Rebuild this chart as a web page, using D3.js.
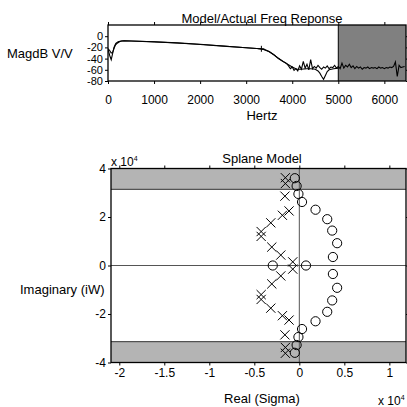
<!DOCTYPE html>
<html><head><meta charset="utf-8">
<script src="https://cdn.jsdelivr.net/npm/d3@7"></script>
<style>
html,body{margin:0;padding:0;background:#fff;}
svg{display:block;font-family:"Liberation Sans",Arial,Helvetica,sans-serif;}
</style></head><body>
<svg id="c" width="407" height="407"></svg>
<script>
// ---- Frequency response (dB vs Hz) ----
const modelHz = [0, 40, 70, 100, 130, 160, 200, 250, 300, 350, 500, 1000, 1500, 2000, 2500, 3000, 3300, 3400, 3500, 3600, 3700, 3800, 3900, 4000, 4100, 4200, 4300, 4400, 4500, 4560, 4600, 4640, 4680, 4720, 4760, 4800, 4900, 5000];
const modelDb = [-22, -26, -30, -29, -22, -16, -12.5, -10, -8.5, -8, -8.5, -10, -12, -14.5, -17.5, -20.5, -22.3, -24, -27.5, -33, -39.5, -45, -50, -55, -59, -59, -58, -58, -59, -62, -66, -72, -77, -70, -63, -60, -58, -57];

const actualHz = [0, 35, 70, 95, 130, 170, 220, 280, 350, 500, 1000, 1500, 2000, 2500, 3000, 3300, 3400, 3500, 3600, 3700, 3800, 3850,
  3880, 3920, 3960, 4000, 4040, 4080, 4120, 4160, 4200, 4240, 4280, 4320, 4360, 4400, 4440, 4480, 4520, 4560, 4600, 4640,
  4680, 4720, 4760, 4800, 4840, 4880, 4920, 4960, 5000, 5040, 5080, 5120, 5160, 5200, 5240, 5280, 5320, 5360, 5400, 5440,
  5480, 5520, 5560, 5600, 5640, 5680, 5720, 5760, 5800, 5840, 5880, 5920, 5960, 6000, 6040, 6080, 6120, 6160, 6200, 6240,
  6280, 6320, 6360, 6400, 6440];
const actualDb = [-23, -34, -42, -33, -20, -13, -10, -8.5, -8, -8.7, -10.2, -12.2, -14.7, -17.7, -20.7, -22.4, -24.2, -27.7, -33.2, -39.7, -45.3, -47.5,
  -49, -53, -58, -55, -61, -58, -62, -53, -59, -45, -57, -50, -60, -42, -58, -54, -57, -52, -56, -59,
  -55, -57, -53, -58, -55, -56, -52, -57, -54, -58, -48, -57, -52, -55, -50, -56, -53, -58, -54, -57,
  -55, -59, -56, -57, -55, -58, -56, -57, -56, -58, -55, -57, -56, -58, -56, -57, -55, -56, -54, -46,
  -72, -52, -56, -55, -54];

const markHz = [3330];
const markDb = [-22.5];

const freqTicks = [0, 1000, 2000, 3000, 4000, 5000, 6000];
const dbTicks = [-80, -60, -40, -20, 0];
const cutoffHz = 5000;

// ---- S-plane model (units of 1e4) ----
const poleRe = [-0.155, -0.155, -0.16, -0.114, -0.188, -0.317, -0.424, -0.424, -0.306, -0.206, -0.073];
const poleIm = [3.62, 3.38, 2.86, 2.25, 2.07, 1.76, 1.40, 1.20, 0.76, 0.43, 0.15];
const zeroRe = [-0.05, -0.03, -0.01, 0.03, 0.18, 0.31, 0.365, 0.42, 0.373];
const zeroIm = [3.60, 3.28, 2.95, 2.62, 2.30, 1.91, 1.44, 0.92, 0.35];
const realZeros = [-0.295, 0.074];

const reTicks = [-2, -1.5, -1, -0.5, 0, 0.5, 1];
const imTicks = [-4, -2, 0, 2, 4];

const svg = d3.select("#c");
const fmt = d => String(d);

function frame(g, x0, x1, y0, y1) {
  g.append("rect").attr("x", x0).attr("y", y0).attr("width", x1 - x0).attr("height", y1 - y0)
    .attr("fill", "none").attr("stroke", "#000").attr("stroke-width", 1.3);
}
function axes(g, xs, ys, xt, yt, box, opt) {
  g.append("g").attr("transform", `translate(0,${box.y1})`)
    .call(d3.axisBottom(xs).tickValues(xt).tickSize(3).tickPadding(opt.xPad).tickFormat(fmt))
    .selectAll(".tick text").attr("font-size", 12);
  g.append("g").attr("transform", `translate(0,${box.y0})`)
    .call(d3.axisTop(xs).tickValues(xt).tickSize(3).tickFormat(""));
  g.append("g").attr("transform", `translate(${box.x0},0)`)
    .call(d3.axisLeft(ys).tickValues(yt).tickSize(3).tickPadding(2).tickFormat(fmt))
    .selectAll(".tick text").attr("font-size", opt.ySize);
  g.append("g").attr("transform", `translate(${box.x1},0)`)
    .call(d3.axisRight(ys).tickValues(yt).tickSize(3).tickFormat(""));
  g.selectAll(".domain").remove();
  g.selectAll(".tick line").attr("stroke", "#000");
  g.selectAll(".tick text").attr("fill", "#000")
    .attr("font-family", '"Liberation Sans",Arial,sans-serif');
}

// ===== top panel =====
const T = {x0: 108, x1: 406, y0: 25, y1: 81};
const fx = d3.scaleLinear().domain([0, 6470]).range([T.x0, T.x1]);
const fy = d3.scaleLinear().domain([-80, 20]).range([T.y1, T.y0]);
const gt = svg.append("g");
svg.append("clipPath").attr("id", "clipT").append("rect")
  .attr("x", T.x0).attr("y", T.y0).attr("width", T.x1 - T.x0).attr("height", T.y1 - T.y0);

gt.append("rect").attr("x", fx(cutoffHz)).attr("y", T.y0)
  .attr("width", T.x1 - fx(cutoffHz)).attr("height", T.y1 - T.y0).attr("fill", "#808080");
gt.append("line").attr("x1", fx(cutoffHz)).attr("x2", fx(cutoffHz)).attr("y1", T.y0).attr("y2", T.y1)
  .attr("stroke", "#000").attr("stroke-width", 1);

const fline = d3.line().x(d => fx(d[0])).y(d => fy(d[1]));
const lines = gt.append("g").attr("clip-path", "url(#clipT)");
lines.append("path").datum(modelHz.map((h, i) => [h, modelDb[i]]))
  .attr("d", fline).attr("fill", "none").attr("stroke", "#000").attr("stroke-width", 1.1);
lines.append("path").datum(actualHz.map((h, i) => [h, actualDb[i]]))
  .attr("d", fline).attr("fill", "none").attr("stroke", "#000").attr("stroke-width", 1.1);
lines.selectAll("path.mk").data(markHz.map((h, i) => [h, markDb[i]])).join("path").attr("class", "mk")
  .attr("d", d => `M${fx(d[0]) - 3},${fy(d[1])}h6M${fx(d[0])},${fy(d[1]) - 3}v6`)
  .attr("stroke", "#000").attr("stroke-width", 1);

frame(gt, T.x0, T.x1, T.y0, T.y1);
axes(gt, fx, fy, freqTicks, dbTicks, T, {xPad: 11, ySize: 11});

gt.append("text").attr("x", 262).attr("y", 23).attr("text-anchor", "middle").attr("font-size", 13)
  .text("Model/Actual Freq Reponse");
gt.append("text").attr("x", 262).attr("y", 120).attr("text-anchor", "middle").attr("font-size", 13)
  .text("Hertz");
gt.append("text").attr("x", 7).attr("y", 58).attr("font-size", 13).text("MagdB V/V");

// ===== bottom panel =====
const B = {x0: 111, x1: 406, y0: 168.5, y1: 362.5};
const sx = d3.scaleLinear().domain([-2.092, 1.185]).range([B.x0, B.x1]);
const sy = d3.scaleLinear().domain([-4, 4]).range([B.y1, B.y0]);
const gb = svg.append("g");
const nyq = 2 * Math.PI * cutoffHz / 1e4;

[[4, nyq], [-nyq, -4]].forEach(([a, b]) => {
  gb.append("rect").attr("x", B.x0).attr("y", sy(a)).attr("width", B.x1 - B.x0)
    .attr("height", sy(b) - sy(a)).attr("fill", "#b4b4b4");
});
[nyq, -nyq].forEach(v => {
  gb.append("line").attr("x1", B.x0).attr("x2", B.x1).attr("y1", sy(v)).attr("y2", sy(v))
    .attr("stroke", "#333").attr("stroke-width", 1);
});
gb.append("line").attr("x1", B.x0).attr("x2", B.x1).attr("y1", sy(0)).attr("y2", sy(0))
  .attr("stroke", "#555").attr("stroke-width", 1);
gb.append("line").attr("x1", sx(0)).attr("x2", sx(0)).attr("y1", B.y0).attr("y2", B.y1)
  .attr("stroke", "#555").attr("stroke-width", 1);

const poles = [];
poleRe.forEach((r, i) => { poles.push([r, poleIm[i]]); poles.push([r, -poleIm[i]]); });
const zeros = [];
zeroRe.forEach((r, i) => { zeros.push([r, zeroIm[i]]); zeros.push([r, -zeroIm[i]]); });
realZeros.forEach(r => zeros.push([r, 0]));

const s = 4.6;
gb.selectAll("path.pole").data(poles).join("path").attr("class", "pole")
  .attr("d", d => { const x = sx(d[0]), y = sy(d[1]);
    return `M${x - s},${y - s}L${x + s},${y + s}M${x - s},${y + s}L${x + s},${y - s}`; })
  .attr("stroke", "#000").attr("stroke-width", 1).attr("fill", "none");
gb.selectAll("circle.zero").data(zeros).join("circle").attr("class", "zero")
  .attr("cx", d => sx(d[0])).attr("cy", d => sy(d[1])).attr("r", 4.6)
  .attr("stroke", "#000").attr("stroke-width", 1).attr("fill", "none");

frame(gb, B.x0, B.x1, B.y0, B.y1);
axes(gb, sx, sy, reTicks, imTicks, B, {xPad: 3, ySize: 12});

gb.append("text").attr("x", 262).attr("y", 163).attr("text-anchor", "middle").attr("font-size", 13)
  .text("Splane Model");
gb.append("text").attr("x", 262).attr("y", 403).attr("text-anchor", "middle").attr("font-size", 13)
  .text("Real (Sigma)");
gb.append("text").attr("x", 20).attr("y", 294).attr("font-size", 13).text("Imaginary (iW)");

function sci(x, y) {
  const t = gb.append("text").attr("x", x).attr("y", y).attr("font-size", 12);
  t.append("tspan").text("x 10");
  t.append("tspan").attr("font-size", 7).attr("dy", -5).text("4");
}
sci(111, 166);
sci(378, 405);
</script></body></html>
